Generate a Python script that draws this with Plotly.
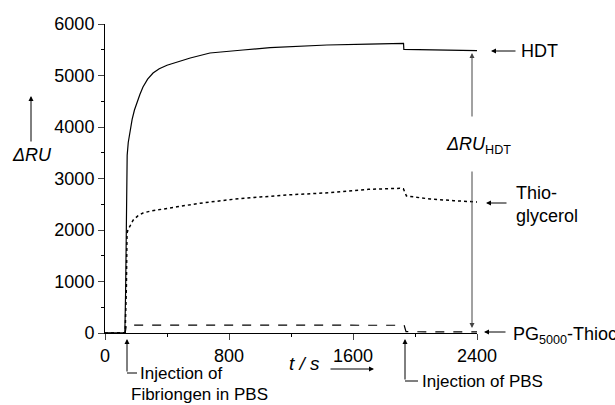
import plotly.graph_objects as go

# ---- data ----
hdt_t = [0, 60, 128, 133, 136, 139, 143, 150, 161, 175, 190, 204, 225, 245, 275, 310, 350, 400, 464,
         550, 677, 780, 890, 1065, 1250, 1432, 1700, 1926, 1928, 2032, 2200, 2400]
hdt_v = [0, 0, 10, 800, 2200, 3000, 3450, 3700, 3942, 4150, 4330, 4466, 4630, 4777, 4930, 5049, 5130,
         5200, 5262, 5340, 5437, 5470, 5495, 5540, 5570, 5592, 5611, 5625, 5508, 5505, 5495, 5482]

thio_t = [0, 60, 130, 138, 142, 148, 160, 181, 210, 245, 290, 335, 400, 464, 613, 729, 826, 1000, 1174,
          1452, 1700, 1903, 1925, 1945, 2097, 2250, 2400]
thio_v = [0, 0, 5, 900, 1940, 2000, 2080, 2190, 2270, 2330, 2365, 2390, 2420, 2450, 2520, 2560, 2596,
          2640, 2680, 2725, 2790, 2810, 2800, 2660, 2602, 2570, 2544]

pg_t = [0, 130, 138, 145, 1930, 1942, 2400]
pg_v = [0, 0, 155, 155, 150, 25, 20]

x_ticks = [0, 800, 1600, 2400]
y_ticks = [0, 1000, 2000, 3000, 4000, 5000, 6000]

FONT = "Liberation Sans, Arial, sans-serif"

# layout geometry
W, H = 615, 405
L, R, T, B = 105, 138, 24, 72
PW, PH = W - L - R, H - T - B


def px(x):
    return (x - L) / PW


def py(y):
    return (H - B - y) / PH


fig = go.Figure()
fig.add_trace(go.Scatter(x=hdt_t, y=hdt_v, mode="lines",
                         line=dict(color="black", width=1.2), name="HDT"))
fig.add_trace(go.Scatter(x=thio_t, y=thio_v, mode="lines",
                         line=dict(color="black", width=1.5, dash="dot"), name="Thioglycerol"))
fig.add_trace(go.Scatter(x=pg_t, y=pg_v, mode="lines",
                         line=dict(color="black", width=1.2, dash="dash"), name="PG5000-Thioglycerol"))

ann = []


def arrow(hx, hy, tx, ty, color="black"):
    ann.append(dict(xref="paper", yref="paper", x=px(hx), y=py(hy), text="",
                    showarrow=True, ax=tx - hx, ay=ty - hy, arrowhead=2,
                    arrowsize=1.0, arrowwidth=1, arrowcolor=color))


def label(x, y, text, size=18, anchor="left"):
    ann.append(dict(xref="paper", yref="paper", x=px(x), y=py(y), text=text,
                    showarrow=False, xanchor=anchor, yanchor="middle", align="left",
                    font=dict(family=FONT, size=size, color="black")))


# y axis label with arrow
label(32, 155, "<i>ΔRU</i>", anchor="center")
arrow(31, 96, 31, 143)
# x axis label with arrow
label(287, 363, "<i>t / s</i>", size=19)
arrow(374, 369, 329, 369)

# right labels
arrow(491, 51, 517, 51)
label(519, 51, "HDT")
arrow(486, 203, 508, 203)
label(514, 204, "Thio-<br>glycerol")
arrow(484, 332, 507, 332)
label(511, 335, "PG<sub>5000</sub>-Thioc")

# delta RU HDT double arrow
arrow(472, 53, 472, 118, "#444")
arrow(472, 328, 472, 170, "#444")
label(444, 145, "<i>ΔRU</i><sub>HDT</sub>")

# injection annotations
arrow(127, 339, 127, 373)
label(138, 373, "Injection of", size=17)
label(129, 394, "Fibriongen in PBS", size=17)
arrow(405, 339, 405, 381)
label(420, 381, "Injection of PBS", size=17)

shapes = [
    dict(type="line", xref="paper", yref="paper", x0=px(127), x1=px(137), y0=py(373), y1=py(373),
         line=dict(color="black", width=1)),
    dict(type="line", xref="paper", yref="paper", x0=px(405), x1=px(418), y0=py(381), y1=py(381),
         line=dict(color="black", width=1)),
]

fig.update_layout(
    width=W, height=H,
    margin=dict(l=L, r=R, t=T, b=B),
    paper_bgcolor="white", plot_bgcolor="white",
    showlegend=False,
    font=dict(family=FONT, size=18, color="black"),
    annotations=ann, shapes=shapes,
    xaxis=dict(range=[0, 2400], tickvals=x_ticks, ticks="outside", ticklen=6, tickwidth=1,
               showline=True, linecolor="black", linewidth=1, showgrid=False, zeroline=False,
               minor=dict(dtick=400, tick0=0, ticks="outside", ticklen=3, tickcolor="black"),
               tickfont=dict(family=FONT, size=18)),
    yaxis=dict(range=[0, 6000], tickvals=y_ticks, ticks="outside", ticklen=6, tickwidth=1,
               showline=True, linecolor="black", linewidth=1, showgrid=False, zeroline=False,
               minor=dict(dtick=500, tick0=0, ticks="outside", ticklen=3, tickcolor="black"),
               tickfont=dict(family=FONT, size=18)),
)

fig.write_html("out.html")
